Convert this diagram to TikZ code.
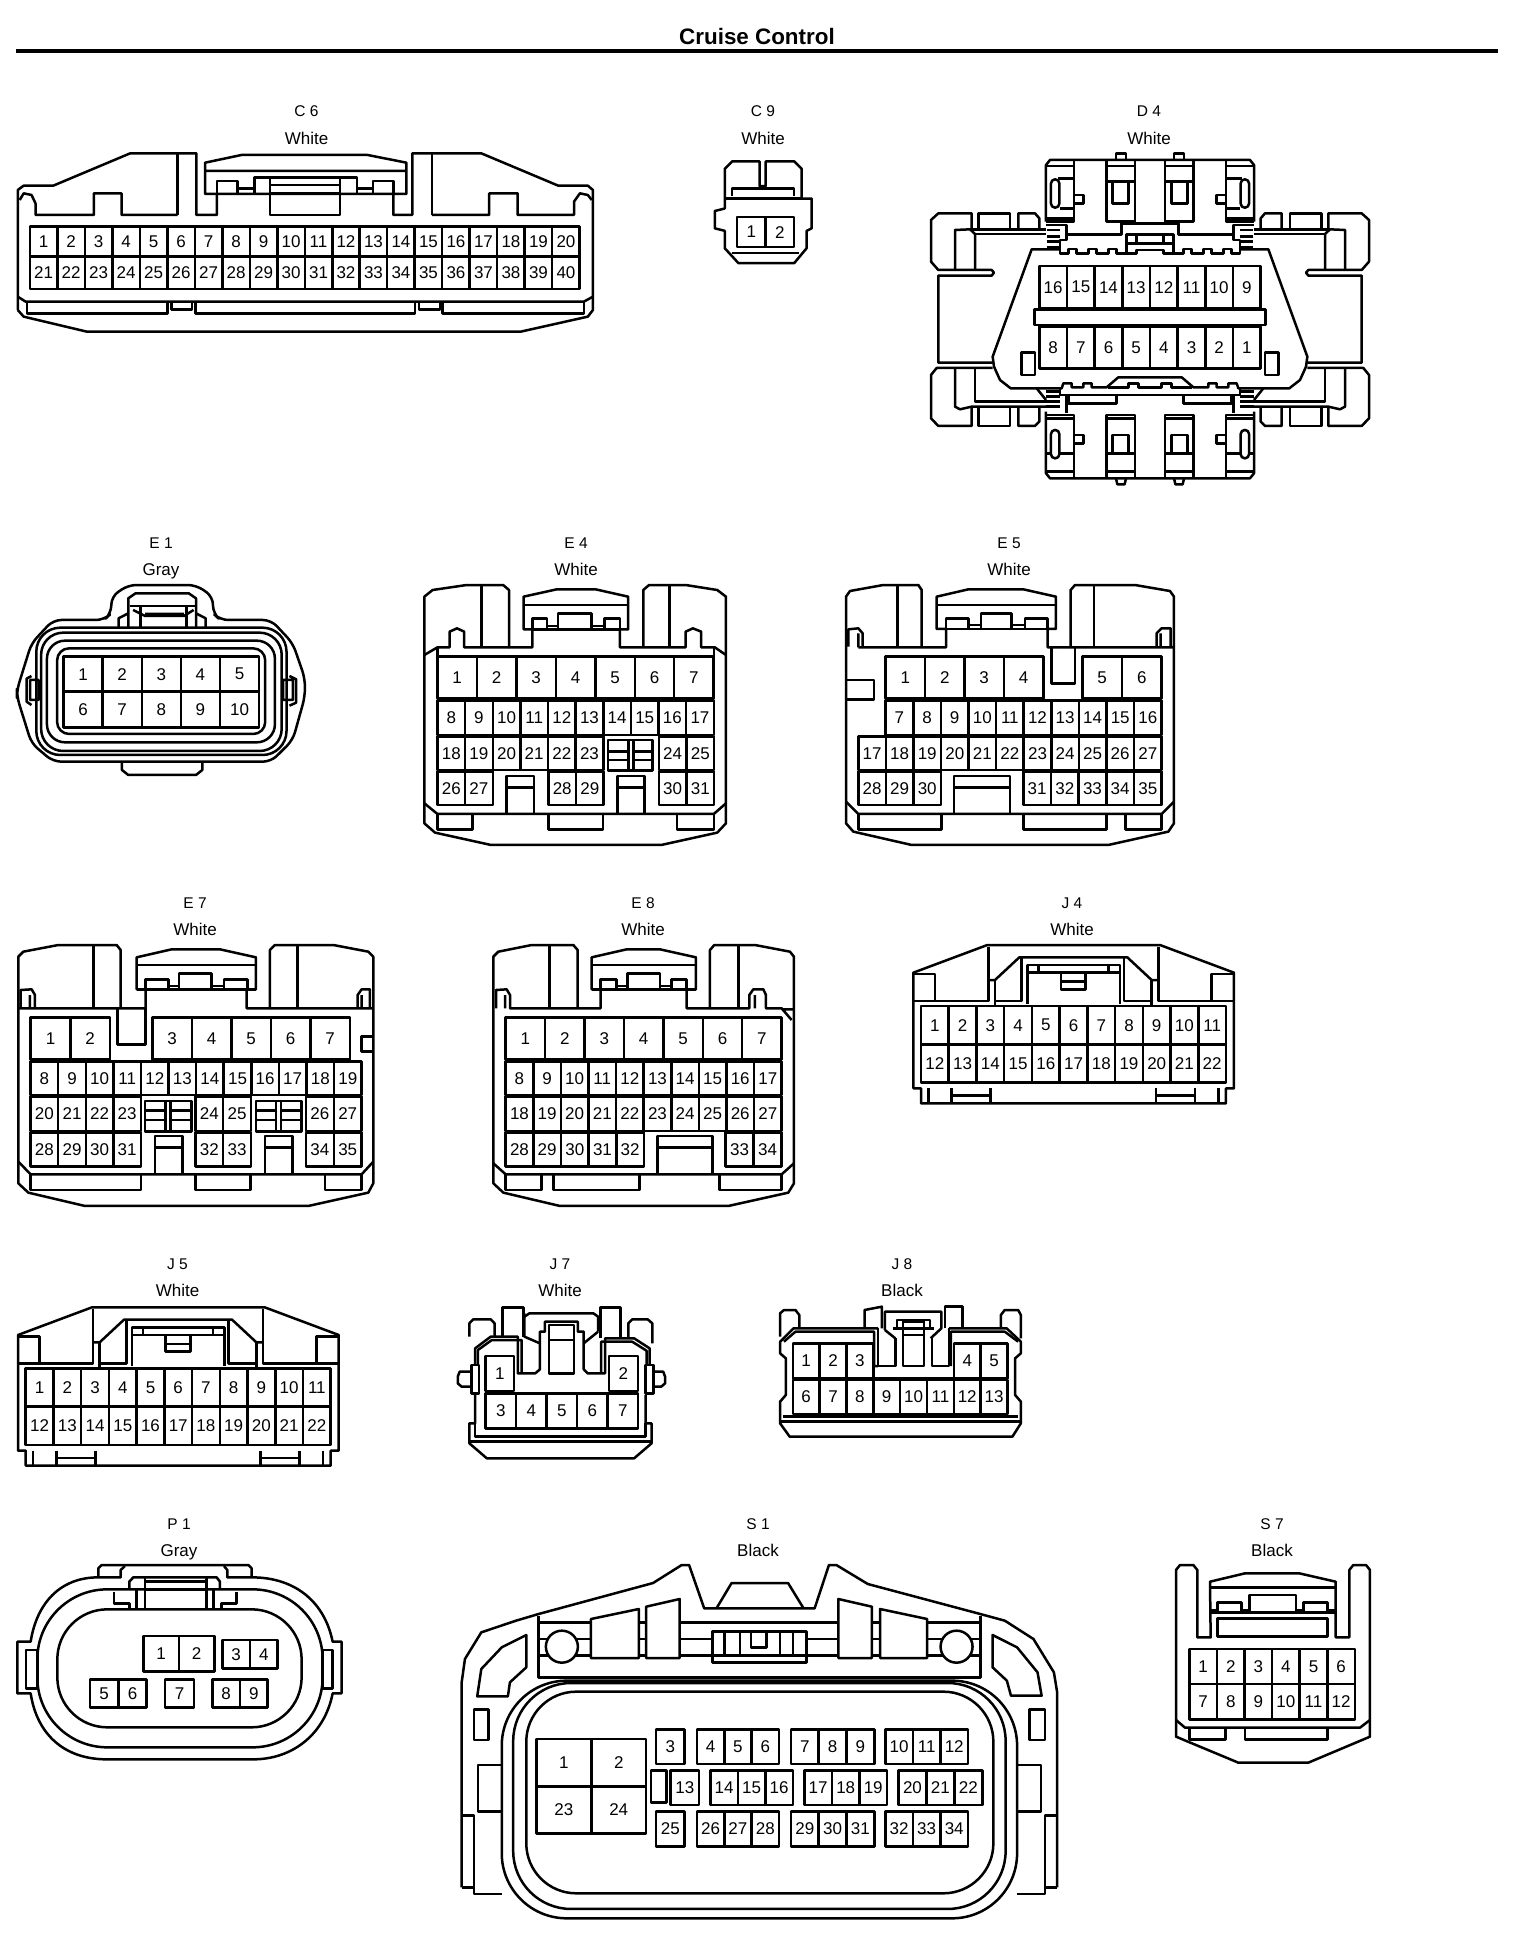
\documentclass[tikz,border=0pt]{standalone}
\usepackage{fontspec}
\setmainfont{Liberation Sans}
\usetikzlibrary{positioning}

% one row of pin cells: prefix, left edge, cell width, top, bottom, labels
\newcommand{\pinrow}[6]{%
  \foreach \pinno [count=\pinpos from 0] in {#6} {
    \pgfmathsetmacro{\pinleft}{#2+\pinpos*#3}
    \pgfmathsetmacro{\pinright}{\pinleft+#3}
    \draw (\pinleft,#4) rectangle node[pin] (#1-\pinno) {\pinno} (\pinright,#5);
  }
}
% connector name and colour above a housing
\newcommand{\conlabel}[5]{%
  \node[conname] (#1name) at (#2,#3) {#4};
  \node[concolor, below=13pt of #1name] (#1color) {#5};
}
% J4 and J5 share one housing
\newcommand{\jshell}[1]{%
  \draw (40,218) -- (262,135) -- (780,135) -- (1002,218) -- (1002,565) -- (978,565) -- (978,610) -- (63,610) -- (63,565) -- (40,565) -- cycle;
  \draw (40,222) -- (105,222) -- (105,303);
  \draw (1002,222) -- (935,222) -- (935,303);
  \draw (40,303) -- (265,303) -- (265,140);
  \draw (775,140) -- (775,303) -- (1002,303);
  \draw (265,240) -- (285,240) -- (358,172) -- (682,172) -- (755,240) -- (775,240);
  \draw (285,240) -- (285,315) (755,240) -- (755,315);
  \draw (285,303) -- (365,303) -- (365,172) (755,303) -- (672,303) -- (672,172);
  \draw (382,312) -- (382,195) -- (660,195) -- (660,312);
  \draw (382,218) -- (660,218) (415,195) -- (415,218) (625,195) -- (625,218);
  \draw (483,222) -- (483,268) -- (557,268) -- (557,222) (483,245) -- (557,245);
  \pinrow{#1}{63}{83.2}{318}{433}{1,...,11}
  \pinrow{#1}{63}{83.2}{433}{548}{12,...,22}
  \draw (85,565) -- (85,610) (155,565) -- (155,610) (272,565) -- (272,610) (155,587) -- (272,587);
  \draw (768,565) -- (768,610) (885,565) -- (885,610) (955,565) -- (955,610) (768,587) -- (885,587);
}
% left half of D4, drawn twice
\newcommand{\dhalf}{%
  % top clip housing
  \draw (378,245) -- (378,75) -- (390,60) -- (690,60);
  \draw (380,78) -- (462,78) (462,60) -- (462,245) -- (378,245) (378,235) -- (462,235);
  \draw (415,115) -- (462,115) (420,205) -- (462,205);
  \draw[rounded corners=4pt] (393,118) rectangle (418,203);
  \draw (462,165) -- (490,165) -- (490,190) -- (462,190);
  \draw (560,60) -- (560,245) -- (645,245) -- (645,60);
  \draw (560,78) -- (645,78) (560,125) -- (645,125);
  \draw (578,130) -- (578,190) -- (625,190) -- (625,130);
  \draw (588,58) -- (588,40) -- (618,40) -- (618,58);
  % upper neck
  \draw (378,255) -- (440,255) -- (440,300) -- (420,300) -- (420,340) -- (445,340) -- (445,327) -- (470,327) -- (470,340) -- (505,340) -- (505,327) -- (530,327) -- (530,340) -- (565,340) -- (565,327) -- (590,327) -- (590,340) -- (625,340);
  \draw (440,283) -- (605,283) -- (605,250) -- (690,250);
  \draw (620,340) -- (620,283) -- (690,283) (650,283) -- (650,310) (625,310) -- (690,310);
  \draw (625,340) -- (650,340) -- (650,330) -- (690,330);
  \draw (380,270) -- (420,270) (380,290) -- (420,290) (380,305) -- (420,305) (380,322) -- (420,322);
  % wing
  \draw (155,270) -- (155,220) -- (55,220) -- (33,240) -- (33,365) -- (55,390) -- (215,390) -- (222,398) -- (215,407) -- (55,407) -- (55,668) -- (218,668);
  \draw (175,270) -- (175,220) -- (270,220) -- (270,270);
  \draw (295,270) -- (295,220) -- (345,220) -- (358,235) -- (358,265);
  \draw (105,388) -- (105,270) -- (150,268) -- (165,282) -- (165,388);
  \draw (150,268) -- (378,268) (165,282) -- (378,282);
  \draw (218,684) -- (50,684) -- (33,705) -- (33,835) -- (55,858) -- (155,858) -- (155,800);
  \draw (105,686) -- (105,800) -- (120,808) -- (155,800) -- (378,800);
  \draw (165,686) -- (165,785) -- (378,785);
  \draw (175,803) -- (175,858) -- (270,858) -- (270,803);
  \draw (295,803) -- (295,858) -- (345,858) -- (358,845) -- (358,803);
  \draw (350,745) -- (378,780);
  % main body
  \draw (420,328) -- (335,328) -- (218,650) -- (222,680) -- (240,720) -- (272,745) -- (425,745) -- (430,730) -- (455,730) -- (455,742) -- (490,742) -- (490,730) -- (515,730) -- (515,742) -- (560,742) -- (595,712) -- (690,712);
  \draw (565,742) -- (625,742) -- (625,730) -- (655,730) -- (655,742) -- (690,742);
  \draw[fill=white] (305,637) rectangle (345,705);
  % lower neck
  \draw (420,745) -- (420,765) -- (590,765) (440,765) -- (440,820);
  \draw (445,768) -- (445,790) -- (590,790) -- (590,765) -- (690,765);
  \draw (378,755) -- (420,755) (378,770) -- (420,770) (378,785) -- (420,785) (378,800) -- (420,800);
  % bottom clip housing
  \draw (378,815) -- (378,1000) -- (390,1015) -- (690,1015);
  \draw (378,825) -- (462,825) -- (462,1015) (380,835) -- (462,835);
  \draw (380,940) -- (393,940) (418,940) -- (462,940) (378,995) -- (462,995);
  \draw[rounded corners=4pt] (393,870) rectangle (418,955);
  \draw (462,885) -- (490,885) -- (490,910) -- (462,910);
  \draw (560,1015) -- (560,825) -- (645,825) -- (645,1015);
  \draw (560,835) -- (645,835) (560,940) -- (645,940) (560,995) -- (645,995);
  \draw (578,940) -- (578,885) -- (625,885) -- (625,940);
  \draw (588,1015) -- (592,1033) -- (614,1033) -- (618,1015);
}

\begin{document}
\begin{tikzpicture}[
    x=1pt, y=-1pt,
    line width=2.5pt,
    line join=round,
    view/.style n args={4}{shift={(#1,#2)}, x=#3, y=#4},
    pin/.style={font=\fontsize{17}{17}\selectfont, inner sep=0pt},
    conname/.style={font=\fontsize{15.5}{16}\selectfont, inner sep=0pt, text height=12pt, text depth=0pt},
    concolor/.style={font=\fontsize{17}{17}\selectfont, inner sep=0pt, text height=12pt, text depth=0pt}
]
\path[fill=white, use as bounding box] (0,0) rectangle (1520,1946);

\node[font=\fontsize{22.4}{22}\bfseries\selectfont, inner sep=0pt] (title) at (757,36) {Cruise Control};
\coordinate (ruleleft) at (16,51);
\coordinate (ruleright) at (1498,51);
\draw[line width=3.5pt] (ruleleft) -- (ruleright);

\conlabel{c6}{306.5}{110.5}{C 6}{White}
\conlabel{c9}{763}{110.5}{C 9}{White}
\conlabel{d4}{1149}{110.5}{D 4}{White}
\conlabel{e1}{161}{542}{E 1}{Gray}
\conlabel{e4}{576}{542}{E 4}{White}
\conlabel{e5}{1009}{542}{E 5}{White}
\conlabel{e7}{195}{902}{E 7}{White}
\conlabel{e8}{643}{902}{E 8}{White}
\conlabel{j4}{1072}{902}{J 4}{White}
\conlabel{j5}{177.5}{1263}{J 5}{White}
\conlabel{j7}{560}{1263}{J 7}{White}
\conlabel{j8}{902}{1263}{J 8}{Black}
\conlabel{p1}{179}{1523}{P 1}{Gray}
\conlabel{s1}{758}{1523}{S 1}{Black}
\conlabel{s7}{1272}{1523}{S 7}{Black}

% C6
\begin{scope}[view={0}{90}{.3945pt}{-.3333pt}]
  \draw (45,660) -- (45,300) -- (60,287) -- (135,287) -- (330,190) -- (498,190) -- (498,375) -- (550,375) -- (550,312);
  \draw (997,312) -- (997,375) -- (1045,375) -- (1045,190) -- (1220,190) -- (1415,287) -- (1490,287) -- (1503,300) -- (1503,660) -- (1490,680) -- (1320,725) -- (220,725) -- (60,680) -- (45,660);
  \draw (520,312) -- (520,218) -- (612,195) -- (932,195) -- (1030,218) -- (1030,312) -- cycle (520,243) -- (1030,243);
  \draw (450,190) -- (450,375) (1095,190) -- (1095,375);
  \draw (50,330) -- (60,310) -- (80,315) -- (90,340) -- (90,375) -- (238,375) -- (238,310) -- (308,310) -- (308,375) -- (450,375);
  \draw (1095,375) -- (1240,375) -- (1240,310) -- (1312,310) -- (1312,375) -- (1455,375) -- (1455,335) -- (1470,310) -- (1490,315) -- (1500,330);
  \draw (550,312) -- (550,273) -- (602,273) -- (602,312) (602,295) -- (645,295);
  \draw (645,312) -- (645,262) -- (905,262) -- (905,312) (905,295) -- (945,295);
  \draw (685,262) -- (685,375) -- (862,375) -- (862,262) (685,285) -- (862,285) (685,310) -- (862,310);
  \draw (945,312) -- (945,273) -- (997,273) -- (997,312);
  \pinrow{c6}{75.5}{69.7}{410}{500}{1,...,20}
  \pinrow{c6}{75.5}{69.7}{500}{597}{21,...,40}
  \draw (45,620) -- (65,635) -- (1480,635) -- (1503,620);
  \draw (68,635) -- (68,670) -- (425,670) -- (425,635);
  \draw (435,635) -- (435,658) -- (487,658) -- (487,635);
  \draw (495,635) -- (495,670) -- (1052,670) -- (1052,635);
  \draw (1062,635) -- (1062,658) -- (1115,658) -- (1115,635);
  \draw (1122,635) -- (1122,670) -- (1480,670) -- (1480,635);
\end{scope}

% C9
\begin{scope}[view={0}{0}{1.241pt}{-1.241pt}]
  \draw (584,168) -- (584,136) -- (590,130) -- (612,130) -- (612,150) -- (617,150) -- (617,130) -- (640,130) -- (646,136) -- (646,160) -- (654,160) -- (654,184) -- (650,186) -- (650,200) -- (640,212) -- (595,212) -- (584,200) -- (584,186) -- (576,184) -- (576,170) -- cycle;
  \draw (590,158) -- (590,152) -- (640,152) -- (640,158);
  \draw (584,160) -- (646,160);
  \draw (590,204) -- (644,204);
  \pinrow{c9}{594}{23}{175}{199}{1,2}
\end{scope}

% D4
\begin{scope}[view={920}{140}{.3333pt}{-.3333pt}]
  \dhalf
  \begin{scope}[xshift=460pt, xscale=-1]
    \dhalf
  \end{scope}
  \pinrow{d4}{358}{83}{378}{505}{16,15,14,13,12,11,10,9}
  \pinrow{d4}{358}{83}{560}{685}{8,7,6,5,4,3,2,1}
  \draw (343,508) rectangle (1037,555);
\end{scope}

% E1
\begin{scope}[view={0}{530}{.484pt}{-.3333pt}]
  \draw[rounded corners=8pt] (35,480) -- (65,340) -- (110,270) -- (215,270) -- (230,250) -- (230,200) -- (265,165) -- (405,165) -- (440,200) -- (440,250) -- (455,270) -- (560,270) -- (605,340) -- (630,445) -- (630,500) -- (605,630) -- (560,695) -- (110,695) -- (65,640) -- (35,500) -- cycle;
  \draw[rounded corners=24pt] (75,293) rectangle (592,675);
  \draw[rounded corners=22pt] (85,308) rectangle (582,663);
  \draw[rounded corners=18pt] (97,332) rectangle (568,637);
  \draw[rounded corners=12pt] (118,355) rectangle (548,612);
  \pinrow{e1}{131.3}{80.8}{380}{485}{1,...,5}
  \pinrow{e1}{131.3}{80.8}{485}{592}{6,...,10}
  \draw (252,695) -- (252,720) -- (265,735) -- (405,735) -- (418,720) -- (418,695);
  \draw (265,293) -- (265,205) -- (280,190) -- (390,190) -- (405,205) -- (405,293);
  \draw (268,228) -- (402,228) (290,232) -- (290,293) (385,232) -- (385,293);
  \draw (300,252) -- (380,252) (275,240) -- (300,258) -- (380,258) -- (400,240);
  \draw (245,293) -- (245,265) -- (265,250) (425,293) -- (425,265) -- (405,250);
  \draw (65,438) -- (55,446) -- (55,515) -- (65,525) (62,450) rectangle (80,510);
  \draw (598,438) -- (612,448) -- (612,518) -- (598,527) (585,450) rectangle (605,510);
\end{scope}

% E4
\begin{scope}[view={-2.8}{530}{.4865pt}{-.3333pt}]
  \draw (878,200) -- (895,180) -- (965,165) -- (1040,165) -- (1052,180) -- (1052,352) -- (1100,352) -- (1100,298) -- (1082,298) -- (1082,200) -- (1150,178) -- (1230,178) -- (1297,200) -- (1297,298) -- (1280,298) -- (1280,352) -- (1328,352) -- (1328,180) -- (1340,165) -- (1415,165) -- (1480,180) -- (1498,200) -- (1498,880) -- (1480,908) -- (1365,945) -- (1015,945) -- (900,908) -- (878,880) -- cycle;
  \draw (995,165) -- (995,352) (1382,165) -- (1382,352) (1082,225) -- (1297,225) (1100,298) -- (1280,298);
  \draw (1100,298) -- (1100,265) -- (1130,265) -- (1130,298) (1130,288) -- (1153,288);
  \draw (1153,298) -- (1153,250) -- (1222,250) -- (1222,298) (1222,288) -- (1248,288);
  \draw (1248,298) -- (1248,265) -- (1280,265) -- (1280,298);
  \draw (878,375) -- (905,352) -- (930,352) -- (930,305) -- (945,295) -- (960,305) -- (960,352) -- (1052,352);
  \draw (1328,352) -- (1415,352) -- (1415,305) -- (1430,295) -- (1447,305) -- (1447,352) -- (1475,352) -- (1498,375);
  \draw (905,352) -- (905,380) (1473,352) -- (1473,380);
  \pinrow{e4}{905}{81.1}{380}{505}{1,...,7}
  \pinrow{e4}{905}{56.8}{512}{615}{8,...,17}
  \pinrow{e4}{905}{56.8}{620}{720}{18,...,23}
  \pinrow{e4}{1360}{56.8}{620}{720}{24,25}
  \pinrow{e4}{905}{56.8}{725}{825}{26,27}
  \pinrow{e4}{1133}{56.8}{725}{825}{28,29}
  \pinrow{e4}{1360}{56.8}{725}{825}{30,31}
  \draw (1255,630) rectangle (1347,722) (1298,630) -- (1298,722) (1308,630) -- (1308,722);
  \draw (1255,665) -- (1298,665) (1255,690) -- (1298,690) (1308,665) -- (1347,665) (1308,690) -- (1347,690);
  \draw (1047,852) -- (1047,738) -- (1103,738) -- (1103,852) (1047,772) -- (1103,772);
  \draw (1275,852) -- (1275,738) -- (1331,738) -- (1331,852) (1275,772) -- (1331,772);
  \draw (878,820) -- (905,852) -- (1473,852) -- (1498,820);
  \draw (905,852) -- (905,898) -- (977,898) -- (977,852);
  \draw (1133,852) -- (1133,898) -- (1245,898) -- (1245,852);
  \draw (1397,852) -- (1397,898) -- (1473,898) -- (1473,852);
\end{scope}

% E5
\begin{scope}[view={840}{530}{.3333pt}{-.3333pt}]
  \draw (18,200) -- (30,183) -- (130,165) -- (235,165) -- (245,180) -- (245,352) -- (318,352) -- (318,297) -- (290,297) -- (290,200) -- (385,178) -- (550,178) -- (648,200) -- (648,297) -- (623,297) -- (623,352) -- (692,352) -- (692,180) -- (705,165) -- (885,165) -- (990,183) -- (1002,200) -- (1002,880) -- (985,905) -- (805,945) -- (215,945) -- (40,905) -- (18,880) -- cycle;
  \draw (173,165) -- (173,352) (762,165) -- (762,352) (290,225) -- (648,225) (290,297) -- (648,297);
  \draw (318,297) -- (318,265) -- (385,265) -- (385,297) (385,285) -- (423,285);
  \draw (423,297) -- (423,250) -- (515,250) -- (515,297) (515,285) -- (555,285);
  \draw (555,297) -- (555,265) -- (623,265) -- (623,297);
  \draw (25,350) -- (25,298) -- (55,295) -- (68,310) -- (68,352) (55,352) -- (55,310) (55,352) -- (245,352);
  \draw (692,352) -- (950,352) -- (950,310) -- (965,295) -- (992,295) -- (992,352) (962,310) -- (962,352) (950,352) -- (1002,352);
  \draw (635,352) -- (635,460) -- (705,460) -- (705,352);
  \draw (18,450) -- (102,450) -- (102,508) -- (18,508);
  \pinrow{e5}{137}{118.2}{380}{505}{1,...,4}
  \pinrow{e5}{727}{119}{380}{505}{5,6}
  \pinrow{e5}{137}{82.8}{512}{615}{7,...,16}
  \pinrow{e5}{55}{82.7}{620}{720}{17,...,27}
  \pinrow{e5}{55}{82.7}{725}{825}{28,29,30}
  \pinrow{e5}{550}{83}{725}{825}{31,...,35}
  \draw (342,852) -- (342,738) -- (510,738) -- (510,852) (342,772) -- (510,772);
  \draw (18,815) -- (55,852) -- (965,852) -- (1002,815);
  \draw (55,852) -- (55,898) -- (305,898) -- (305,852);
  \draw (550,852) -- (550,898) -- (800,898) -- (800,852);
  \draw (857,852) -- (857,898) -- (965,898) -- (965,852);
\end{scope}

% E7
\begin{scope}[view={0}{900}{.3333pt}{-.3333pt}]
  \draw (55,170) -- (70,155) -- (175,135) -- (350,135) -- (362,150) -- (362,325) -- (437,325) -- (437,268) -- (410,268) -- (410,172) -- (515,148) -- (660,148) -- (768,172) -- (768,268) -- (740,268) -- (740,325) -- (810,325) -- (810,150) -- (825,135) -- (1000,135) -- (1105,155) -- (1120,170) -- (1120,850) -- (1105,878) -- (925,918) -- (255,918) -- (85,878) -- (55,850) -- cycle;
  \draw (280,135) -- (280,325) (893,135) -- (893,325) (410,195) -- (768,195) (410,268) -- (768,268);
  \draw (437,268) -- (437,238) -- (505,238) -- (505,268) (505,258) -- (537,258);
  \draw (537,268) -- (537,220) -- (635,220) -- (635,268) (635,258) -- (672,258);
  \draw (672,268) -- (672,238) -- (742,238) -- (742,268);
  \draw (62,325) -- (62,270) -- (95,268) -- (105,285) -- (105,325) -- (362,325) (90,325) -- (90,285) (55,325) -- (105,325);
  \draw (810,325) -- (1073,325) -- (1073,285) -- (1085,268) -- (1110,268) -- (1110,325) (1085,285) -- (1085,325) (1073,325) -- (1120,325);
  \draw (353,325) -- (353,433) -- (437,433) -- (437,325);
  \pinrow{e7}{92}{119}{352}{478}{1,2}
  \pinrow{e7}{457}{118.6}{352}{478}{3,...,7}
  \pinrow{e7}{92}{82.75}{485}{585}{8,...,19}
  \pinrow{e7}{92}{82.75}{590}{693}{20,...,23}
  \pinrow{e7}{587}{82.75}{590}{693}{24,25}
  \pinrow{e7}{918}{83.5}{590}{693}{26,27}
  \pinrow{e7}{92}{82.75}{697}{800}{28,...,31}
  \pinrow{e7}{587}{82.75}{697}{800}{32,33}
  \pinrow{e7}{918}{83.5}{697}{800}{34,35}
  \draw (1120,410) -- (1085,410) -- (1085,455) -- (1120,455);
  \draw (435,603) rectangle (575,695) (497,603) -- (497,695) (512,603) -- (512,695);
  \draw (435,632) -- (497,632) (435,660) -- (497,660) (512,632) -- (575,632) (512,660) -- (575,660);
  \draw (768,603) rectangle (905,695) (828,603) -- (828,695) (843,603) -- (843,695);
  \draw (768,632) -- (828,632) (768,660) -- (828,660) (843,632) -- (905,632) (843,660) -- (905,660);
  \draw (465,823) -- (465,708) -- (547,708) -- (547,823) (465,742) -- (547,742);
  \draw (795,823) -- (795,708) -- (877,708) -- (877,823) (795,742) -- (877,742);
  \draw (55,785) -- (92,823) -- (1085,823) -- (1120,785);
  \draw (92,823) -- (92,870) -- (423,870) -- (423,823);
  \draw (587,823) -- (587,870) -- (752,870) -- (752,823);
  \draw (975,823) -- (975,870) -- (1085,870) -- (1085,823);
\end{scope}

% E8
\begin{scope}[view={480}{900}{.3333pt}{-.3333pt}]
  \draw (40,170) -- (55,155) -- (155,135) -- (280,135) -- (293,150) -- (293,325) -- (362,325) -- (362,268) -- (335,268) -- (335,172) -- (440,148) -- (540,148) -- (648,172) -- (648,268) -- (620,268) -- (620,325) -- (690,325) -- (690,150) -- (703,135) -- (825,135) -- (930,155) -- (942,170) -- (942,850) -- (925,878) -- (745,918) -- (240,918) -- (70,878) -- (40,850) -- cycle;
  \draw (208,135) -- (208,325) (775,135) -- (775,325) (335,195) -- (648,195) (335,268) -- (648,268);
  \draw (362,268) -- (362,238) -- (410,238) -- (410,268) (410,258) -- (443,258);
  \draw (443,268) -- (443,220) -- (540,220) -- (540,268) (540,258) -- (575,258);
  \draw (575,268) -- (575,238) -- (620,238) -- (620,268);
  \draw (48,325) -- (48,270) -- (80,268) -- (90,285) -- (90,325) -- (293,325) (75,285) -- (75,325);
  \draw (690,325) -- (808,325) -- (808,285) -- (820,268) -- (850,268) -- (858,285) -- (858,325) -- (905,325) -- (935,360) (825,285) -- (825,325) (905,328) -- (942,328);
  \pinrow{e8}{77}{118.3}{352}{478}{1,...,7}
  \pinrow{e8}{77}{82.8}{485}{585}{8,...,17}
  \pinrow{e8}{77}{82.8}{590}{693}{18,...,27}
  \pinrow{e8}{77}{83}{697}{800}{28,...,32}
  \pinrow{e8}{737}{84}{697}{800}{33,34}
  \draw (532,823) -- (532,708) -- (697,708) -- (697,823) (532,742) -- (697,742);
  \draw (40,790) -- (77,823) -- (905,823) -- (942,790);
  \draw (77,823) -- (77,870) -- (185,870) -- (185,823);
  \draw (220,823) -- (220,870) -- (478,870) -- (478,823);
  \draw (718,823) -- (718,870) -- (905,870) -- (905,823);
\end{scope}

% J4
\begin{scope}[view={900}{900}{.3333pt}{-.3333pt}]
  \jshell{j4}
\end{scope}

% J5
\begin{scope}[view={4.7}{1262.3}{.3333pt}{-.3333pt}]
  \jshell{j5}
\end{scope}

% J7
\begin{scope}[view={450}{1260}{.3876pt}{-.3333pt}]
  \draw (65,405) -- (65,490) -- (50,490) -- (50,550) -- (95,595) -- (475,595) -- (520,550) -- (520,490) -- (505,490) -- (505,405);
  \draw (55,315) rectangle (75,400) (505,315) rectangle (525,400);
  \draw (55,335) -- (25,335) -- (20,350) -- (20,370) -- (30,380) -- (55,380);
  \draw (525,335) -- (550,335) -- (555,350) -- (555,370) -- (545,380) -- (525,380);
  \draw (65,315) -- (65,265) -- (105,230) -- (175,230) -- (175,340) -- (220,340) -- (232,328) -- (232,215) -- (245,215) -- (245,185) -- (330,185) -- (330,215) -- (345,215) -- (345,328) -- (355,340) -- (400,340) -- (400,235) -- (475,235) -- (515,265) -- (515,315);
  \draw (72,315) -- (72,270) -- (108,240) -- (185,240) -- (185,340) (390,340) -- (390,245) -- (470,245) -- (507,272) -- (507,315);
  \draw (50,230) -- (50,190) -- (60,178) -- (105,178) -- (115,190) -- (115,230);
  \draw (460,235) -- (460,190) -- (470,178) -- (510,178) -- (522,190) -- (522,250);
  \draw (135,230) -- (135,142) -- (190,142) -- (190,230);
  \draw (388,235) -- (388,142) -- (440,142) -- (440,235);
  \draw (192,160) -- (192,230) -- (232,250) (382,215) -- (345,250);
  \draw (192,170) -- (205,160) -- (370,160) -- (382,170) -- (382,215);
  \draw (255,195) rectangle (320,340) (255,240) -- (320,240);
  \pinrow{j7}{92}{73}{288}{393}{1}
  \pinrow{j7}{410}{75}{288}{393}{2}
  \pinrow{j7}{92}{78.6}{400}{505}{3,...,7}
  \draw (65,490) -- (65,530) -- (505,530) -- (505,490) (50,545) -- (520,545);
\end{scope}

% J8
\begin{scope}[view={446}{1260}{.384pt}{-.3333pt}]
  \draw (1125,205) -- (905,205) -- (870,245) -- (870,280) -- (885,295) -- (885,405) -- (870,425) -- (870,490) -- (895,530) -- (1475,530) -- (1497,490) -- (1497,425) -- (1482,405) -- (1482,295) -- (1497,280) -- (1497,245) -- (1460,205) -- (1310,205);
  \draw (1125,205) -- (1125,318) -- (1170,318) -- (1170,235) (1310,205) -- (1310,318) -- (1265,318) -- (1265,235);
  \draw (880,245) -- (910,215) -- (1115,215) -- (1115,318) -- (1125,318) (1315,318) -- (1315,215) -- (1455,215) -- (1490,245);
  \draw (870,230) -- (870,160) -- (880,150) -- (910,150) -- (920,165) -- (920,205);
  \draw (1445,205) -- (1445,165) -- (1455,150) -- (1490,150) -- (1497,165) -- (1497,235);
  \draw (1090,205) -- (1090,150) -- (1135,140) -- (1135,205);
  \draw (1300,205) -- (1300,140) -- (1345,140) -- (1345,205);
  \draw (1143,210) -- (1143,155) -- (1290,155) -- (1290,205) -- (1262,235) (1143,210) -- (1170,235);
  \draw (1175,205) -- (1175,180) -- (1260,180) -- (1260,205) (1165,205) -- (1270,205);
  \draw (1190,185) rectangle (1245,318) (1190,225) -- (1245,225);
  \pinrow{j8}{903}{70}{250}{355}{1,2,3}
  \pinrow{j8}{1323}{69.5}{250}{355}{4,5}
  \pinrow{j8}{903}{69.9}{360}{462}{6,...,13}
  \draw (1113,355) -- (1323,355);
  \draw (878,470) -- (1490,470) (870,485) -- (1497,485);
\end{scope}

% P1
\begin{scope}[view={0}{1520}{.3333pt}{-.3333pt}]
  \draw (52,365) -- (92,365) .. controls (110,250) and (180,172) .. (295,172) -- (295,145) -- (305,135) -- (745,135) -- (755,145) -- (755,172) .. controls (890,172) and (975,250) .. (998,365) -- (1025,365) -- (1025,520) -- (998,520) .. controls (975,640) and (880,718) .. (760,718) -- (320,718) .. controls (190,718) and (110,640) .. (92,520) -- (52,520) -- cycle;
  \draw[rounded corners=70pt] (112,208) rectangle (968,682);
  \draw[rounded corners=50pt] (172,268) rectangle (905,622);
  \draw (78,390) rectangle (112,505) (968,390) rectangle (998,505);
  \draw (295,172) -- (362,172) -- (362,150) -- (375,138) (755,172) -- (682,172) -- (682,150) -- (672,138);
  \draw (388,208) -- (388,185) -- (400,172) -- (650,172) -- (660,185) -- (660,208);
  \draw (435,185) -- (620,185) (435,208) -- (620,208);
  \draw (410,268) -- (410,208) (435,175) -- (435,268) (620,175) -- (620,268) (640,268) -- (640,208);
  \draw (342,215) -- (342,250) -- (388,250) -- (388,268) (710,215) -- (710,250) -- (665,250) -- (665,268);
  \pinrow{p1}{430}{106.5}{348}{455}{1,2}
  \pinrow{p1}{667}{83}{360}{445}{3,4}
  \pinrow{p1}{270}{85}{478}{563}{5,6}
  \pinrow{p1}{495}{87}{478}{563}{7}
  \pinrow{p1}{637}{83}{478}{563}{8,9}
\end{scope}

% S1
\begin{scope}[view={440.4}{1559}{.409pt}{-.3333pt}]
  \draw (52,985) -- (52,370) -- (60,300) -- (100,220) -- (185,185) -- (240,165) -- (520,72) -- (590,18) -- (608,18) -- (645,148) -- (915,148) -- (950,18) -- (968,18) -- (1045,75) -- (1320,165) -- (1380,185) -- (1450,240) -- (1500,340) -- (1508,400) -- (1508,985);
  \draw (675,148) -- (712,72) -- (850,72) -- (888,148);
  \draw (240,170) -- (240,355) -- (1320,355) -- (1320,170);
  \draw (240,190) -- (1320,190) (240,240) -- (1320,240) (240,290) -- (1320,290);
  \draw[fill=white] (368,180) -- (485,150) -- (485,297) -- (368,297) -- cycle;
  \draw[fill=white] (503,143) -- (585,120) -- (585,297) -- (503,297) -- cycle;
  \draw[fill=white] (973,120) -- (1055,143) -- (1055,297) -- (973,297) -- cycle;
  \draw[fill=white] (1075,150) -- (1190,180) -- (1190,297) -- (1075,297) -- cycle;
  \draw[fill=white] (297,263) circle[x radius=16pt, y radius=16pt];
  \draw[fill=white] (1262,263) circle[x radius=16pt, y radius=16pt];
  \draw[fill=white] (665,217) rectangle (895,310);
  \draw (665,290) -- (895,290) (695,217) -- (695,290) (733,217) -- (733,290) (830,217) -- (830,290) (862,217) -- (862,290);
  \draw (760,220) -- (760,265) -- (797,265) -- (797,220);
  \draw (210,228) -- (150,265) -- (100,330) -- (90,412) -- (165,412) -- (170,370) -- (210,325) -- cycle;
  \draw (1350,228) -- (1410,265) -- (1460,340) -- (1470,410) -- (1395,410) -- (1385,365) -- (1350,325) -- cycle;
  \draw (82,452) rectangle (118,543) (1440,452) rectangle (1478,543);
  \draw (148,618) -- (92,618) -- (92,757) -- (148,757);
  \draw (52,770) -- (82,770) -- (82,1005) -- (150,1005) (52,985) -- (82,985);
  \draw (1412,618) -- (1468,618) -- (1468,757) -- (1412,757);
  \draw (1508,770) -- (1478,770) -- (1478,1005) -- (1410,1005) (1478,985) -- (1508,985);
  \draw[rounded corners=65pt] (150,365) rectangle (1410,1078);
  \draw[rounded corners=58pt] (178,372) rectangle (1382,1050);
  \draw[rounded corners=50pt] (210,398) rectangle (1352,1003);
  \pinrow{s1}{235}{134}{540}{682}{1,2}
  \pinrow{s1}{235}{134}{682}{823}{23,24}
  \pinrow{s1}{527}{70}{512}{615}{3}
  \pinrow{s1}{627}{67}{512}{615}{4,5,6}
  \pinrow{s1}{857}{68}{512}{615}{7,8,9}
  \pinrow{s1}{1088}{67.3}{512}{615}{10,11,12}
  \draw (515,635) rectangle (553,730);
  \pinrow{s1}{563}{69}{635}{738}{13}
  \pinrow{s1}{660}{67.3}{635}{738}{14,15,16}
  \pinrow{s1}{890}{67.3}{635}{738}{17,18,19}
  \pinrow{s1}{1120}{68.3}{635}{738}{20,21,22}
  \pinrow{s1}{527}{70}{757}{862}{25}
  \pinrow{s1}{627}{67}{757}{862}{26,27,28}
  \pinrow{s1}{857}{68}{757}{862}{29,30,31}
  \pinrow{s1}{1088}{67.3}{757}{862}{32,33,34}
\end{scope}

% S7
\begin{scope}[view={1160}{1550}{.3333pt}{-.3333pt}]
  \draw (48,560) -- (48,60) -- (60,45) -- (100,45) -- (112,60) -- (112,262) -- (152,262) -- (150,95) -- (255,70) -- (418,70) -- (527,95) -- (527,262) -- (568,262) -- (568,60) -- (580,45) -- (618,45) -- (630,60) -- (630,560) -- (445,638) -- (235,638) -- cycle;
  \draw (150,112) -- (527,112) (150,180) -- (172,180) (150,188) -- (527,188);
  \draw (172,188) -- (172,157) -- (245,157) -- (245,188) (245,180) -- (268,180);
  \draw (268,188) -- (268,135) -- (408,135) -- (408,188) (408,180) -- (430,180);
  \draw (430,188) -- (430,157) -- (503,157) -- (503,188) (503,180) -- (527,180);
  \draw (172,205) rectangle (503,260);
  \pinrow{s7}{88}{82.8}{297}{402}{1,...,6}
  \pinrow{s7}{88}{82.8}{402}{508}{7,...,12}
  \draw (48,510) -- (75,533) -- (600,533) -- (630,510);
  \draw (88,533) -- (88,568) -- (197,568) -- (197,533);
  \draw (255,533) -- (255,568) -- (503,568) -- (503,533);
\end{scope}
\end{tikzpicture}
\end{document}
